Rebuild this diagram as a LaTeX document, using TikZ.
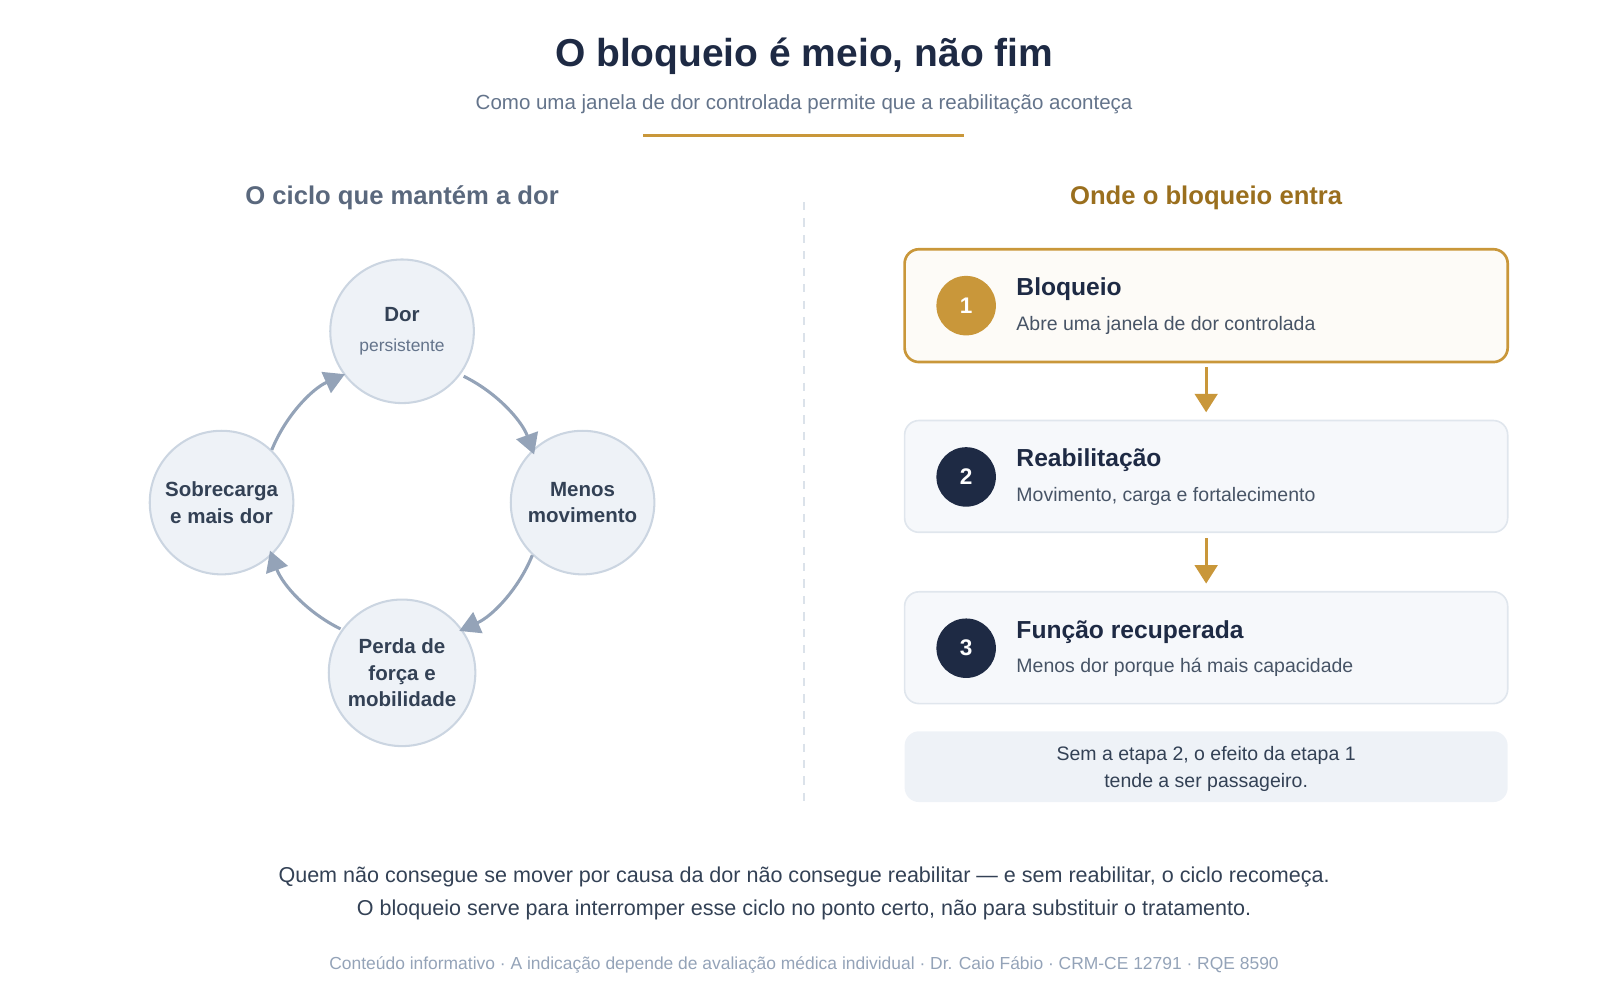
\documentclass[tikz,border=0pt]{standalone}
\usepackage{fontspec}
\setmainfont{Liberation Sans}
\usetikzlibrary{arrows.meta}
\definecolor{navy}{HTML}{1E2A44}
\definecolor{gold}{HTML}{C9973A}
\definecolor{goldt}{HTML}{9A6F1E}
\definecolor{slate}{HTML}{64748B}
\definecolor{slt}{HTML}{334155}
\definecolor{cfill}{HTML}{EEF2F7}
\definecolor{cline}{HTML}{CBD5E1}
\definecolor{arc}{HTML}{94A3B8}
\begin{document}
\begin{tikzpicture}[x=0.5pt,y=-0.5pt,
  cyc/.style={circle,minimum size=70pt,fill=cfill,draw=cline,line width=1pt,align=center,text=slt,font=\bfseries\fontsize{10}{13}\selectfont},
  carr/.style={draw=arc,line width=1.5pt,-{Triangle[width=11pt,length=10pt]}},
  box/.style={rounded corners=7pt,line width=0.8pt},
  num/.style={circle,minimum size=29pt,text=white,font=\bfseries\fontsize{11}{13}\selectfont},
  bt/.style={anchor=west,text=navy,font=\bfseries\fontsize{12}{14}\selectfont},
  bs/.style={anchor=west,text=slt!90,font=\fontsize{9.5}{12}\selectfont},
  garr/.style={draw=gold,line width=1.5pt,-{Triangle[width=11pt,length=9pt]}}]
\useasboundingbox (0,0) rectangle (1560,975);
\node (title) at (784,55) {\bfseries\color{navy}\fontsize{19}{22}\selectfont O bloqueio é meio, não fim};
\node (sub) at (784,102) {\color{slate}\fontsize{10}{12}\selectfont Como uma janela de dor controlada permite que a reabilitação aconteça};
\draw[gold,line width=1.5pt] (627,132) -- (940,132);
\node (lh) at (392,193) {\bfseries\color{slate!90!black}\fontsize{12.5}{15}\selectfont O ciclo que mantém a dor};
\node (rh) at (1176,193) {\bfseries\color{goldt}\fontsize{12.5}{15}\selectfont Onde o bloqueio entra};
\draw[cline!70,line width=0.6pt,dash pattern=on 4pt off 4pt] (784,197) -- (784,785);
% cycle
\coordinate (c) at (392,490);
\node[cyc] (dor) at (392,323) {Dor\\[2pt]{\mdseries\color{slate}\fontsize{8.5}{10}\selectfont persistente}};
\node[cyc] (men) at (568,490) {Menos\\movimento};
\node[cyc] (per) at (392,656) {Perda de\\força e\\mobilidade};
\node[cyc] (sob) at (216,490) {Sobrecarga\\e mais dor};
\draw[carr] ([shift={(-64:137)}]c) arc[start angle=-64,end angle=-20,radius=137];
\draw[carr] ([shift={(22:137)}]c) arc[start angle=22,end angle=66,radius=137];
\draw[carr] ([shift={(116:137)}]c) arc[start angle=116,end angle=160,radius=137];
\draw[carr] ([shift={(202:137)}]c) arc[start angle=202,end angle=246,radius=137];
% right
\draw[box,fill=gold!4,draw=gold,line width=1.3pt] (882,243) rectangle (1470,353);
\draw[box,fill=cfill!50,draw=cline!60] (882,410) rectangle (1470,519);
\draw[box,fill=cfill!50,draw=cline!60] (882,577) rectangle (1470,686);
\node[num,fill=gold] (n1) at (942,298) {1};
\node[num,fill=navy] (n2) at (942,465) {2};
\node[num,fill=navy] (n3) at (942,632) {3};
\node[bt] (t1) at (984,282) {Bloqueio};
\node[bs] (s1) at (984,317) {Abre uma janela de dor controlada};
\node[bt] (t2) at (984,449) {Reabilitação};
\node[bs] (s2) at (984,484) {Movimento, carga e fortalecimento};
\node[bt] (t3) at (984,616) {Função recuperada};
\node[bs] (s3) at (984,651) {Menos dor porque há mais capacidade};
\coordinate (a1) at (1176,358); \coordinate (a2) at (1176,402);
\coordinate (a3) at (1176,525); \coordinate (a4) at (1176,569);
\draw[garr] (a1) -- (a2);
\draw[garr] (a3) -- (a4);
\fill[cfill,rounded corners=7pt] (882,713) rectangle (1470,782);
\node[align=center,text=slt,font=\fontsize{9.5}{13}\selectfont] (note) at (1176,750) {Sem a etapa 2, o efeito da etapa 1\\tende a ser passageiro.};
\node[align=center,text=slt,font=\fontsize{10.5}{16}\selectfont] (bot) at (784,871) {Quem não consegue se mover por causa da dor não consegue reabilitar — e sem reabilitar, o ciclo recomeça.\\O bloqueio serve para interromper esse ciclo no ponto certo, não para substituir o tratamento.};
\node[text=arc,font=\fontsize{8.5}{10}\selectfont] (foot) at (784,941) {Conteúdo informativo · A indicação depende de avaliação médica individual · Dr. Caio Fábio · CRM-CE 12791 · RQE 8590};
\end{tikzpicture}
\end{document}
